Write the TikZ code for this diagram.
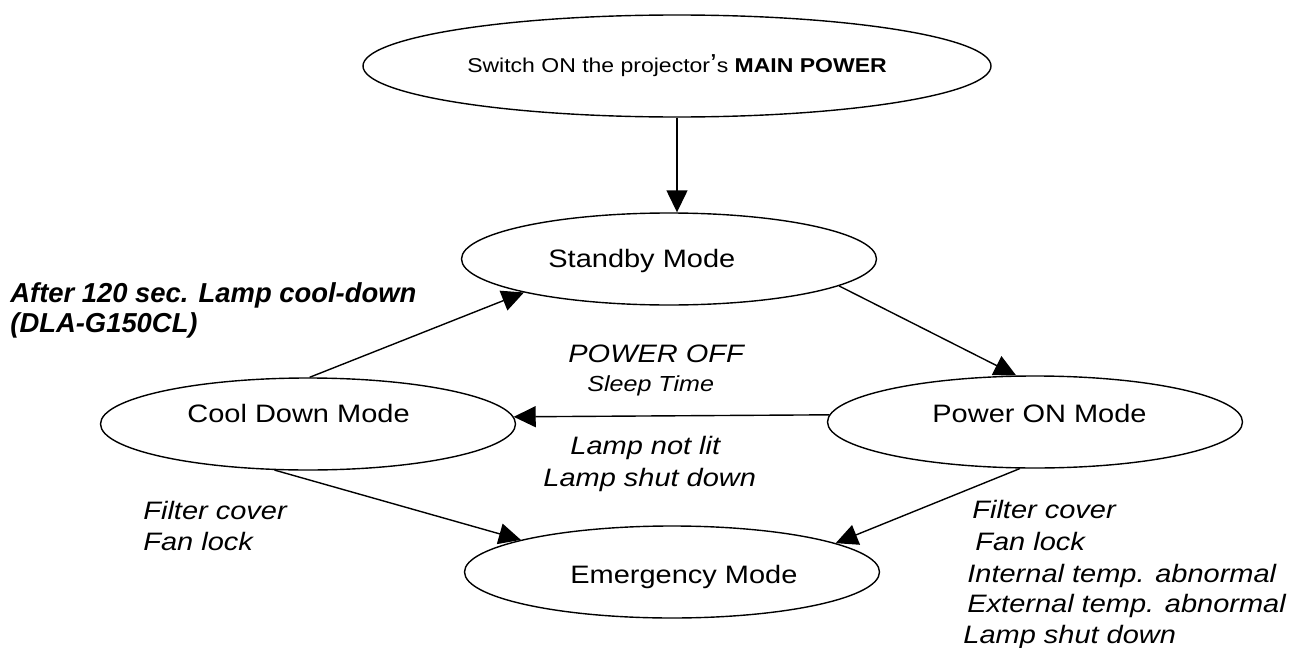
\documentclass[tikz,border=0pt]{standalone}
\usepackage{fontspec}
\setmainfont{Liberation Sans}[FakeStretch=1.15]
\newfontfamily\plainsans{Liberation Sans}
\usetikzlibrary{shapes.geometric,arrows.meta}

\tikzset{
  mode/.style={draw,ellipse,line width=0.7pt,inner sep=0pt,minimum width=207.5pt,minimum height=46pt},
  flow/.style={line width=0.7pt,-{Triangle[length=11pt,width=10.5pt]}},
  txt/.style={anchor=base west,inner sep=0pt,font=\fontsize{12.6}{13}\selectfont},
  note/.style={txt,font=\fontsize{12.6}{13}\selectfont\itshape}
}

\begin{document}
\begin{tikzpicture}[x=0.5pt,y=-0.5pt]
			\useasboundingbox (0,0) rectangle (1297,648);
			\node[mode,minimum width=314pt,minimum height=51pt,font=\fontsize{10}{11}\selectfont] (top) at (677,66) {Switch ON the projector{\fontsize{13}{13}\selectfont ’}s \textbf{MAIN POWER}};
			\node[mode] (standby) at (669,259) {};
			\node[mode] (cool) at (308,424) {};
			\node[mode] (poweron) at (1035,422) {};
			\node[mode] (emergency) at (672,572) {};
			\node[txt] (standbytext) at (548,267) {Standby Mode};
			\node[txt] (cooltext) at (187,422) {Cool Down Mode};
			\node[txt] (powerontext) at (932,422) {Power ON Mode};
			\node[txt] (emergencytext) at (570,583) {Emergency Mode};
			\draw[flow] (top.south) -- (top.south |- standby.north);
			\draw[flow] (standby.-9) -- (poweron.112);
			\draw[flow] (poweron.178) -- (cool.2);
			\draw[flow] (cool.88) -- (standby.193);
			\draw[flow] (cool.234) -- (emergency.168);
			\draw[flow] (poweron.252) -- (emergency.10);
			% transition conditions
			\node[anchor=base west,inner sep=0pt,align=left,font=\plainsans\fontsize{13.7}{15}\selectfont\bfseries\itshape] (cooldownnote) at (10,332) {After 120 sec. Lamp cool-down\\(DLA-G150CL)};
			\node[note] (poweroff) at (568,362) {POWER OFF};
			\node[note,font=\fontsize{10.9}{12}\selectfont\itshape] (sleep) at (587,391) {Sleep Time};
			\node[note] (notlit) at (570,454) {Lamp not lit};
			\node[note] (shutdown) at (543,486) {Lamp shut down};
			\node[note] (leftfilter) at (143,519) {Filter cover};
			\node[note] (leftfan) at (143,550) {Fan lock};
			\node[note] (rightfilter) at (972,518) {Filter cover};
			\node[note] (rightfan) at (975,550) {Fan lock};
			\node[note] (internal) at (967,582) {Internal temp. abnormal};
			\node[note] (external) at (967,612) {External temp. abnormal};
			\node[note] (rightshutdown) at (963,643) {Lamp shut down};
\end{tikzpicture}
\end{document}
